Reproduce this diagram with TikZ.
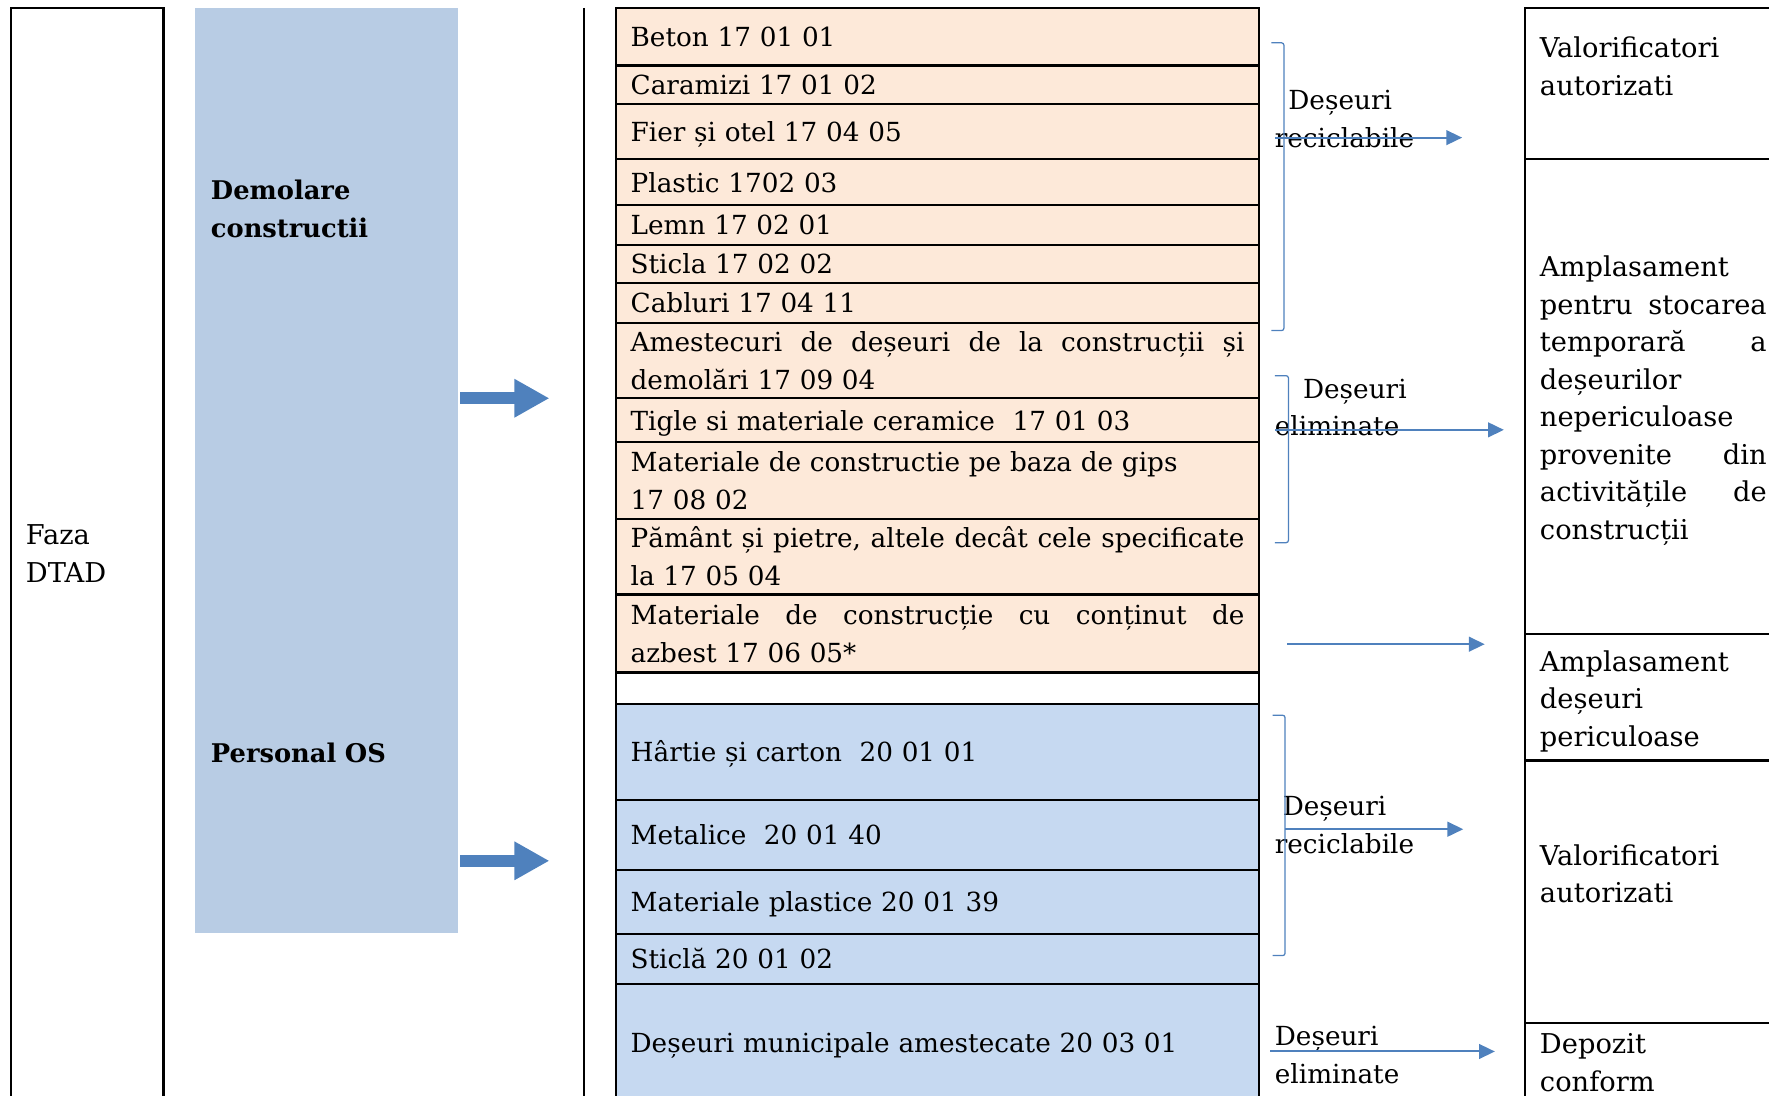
\documentclass[tikz,border=0pt]{standalone}
\usepackage{fontspec}
\setmainfont{DejaVu Serif}
\usetikzlibrary{arrows.meta}
\definecolor{peach}{HTML}{FDE9D9}
\definecolor{cellblue}{HTML}{C6D9F1}
\definecolor{boxblue}{HTML}{B8CCE4}
\definecolor{arrblue}{HTML}{4F81BD}
\newcommand\tabf{\fontsize{23.3}{33.3}\selectfont}
\newcommand\colf{\fontsize{24.2}{33.3}\selectfont}
\newcommand\boldf{\fontsize{22.8}{33.3}\selectfont\bfseries}
\newcommand\sst{\rule[-7.95pt]{0pt}{33.3pt}}
\newcommand\jline[2]{\leavevmode\hbox to #1{\sst #2}}
\tikzset{
  frame/.style={draw=black, line width=2pt, anchor=north west, inner sep=0pt, outer sep=0pt},
  cell/.style={frame, text width=544pt, inner xsep=13pt, inner ysep=0pt, align=left, font=\tabf},
  txt/.style={inner sep=0pt, outer sep=0pt, anchor=north west, align=left, font=\tabf},
  bigarrow/.style={draw=arrblue, line width=11pt, -{Triangle[length=31pt,width=32pt]}},
  thinarrow/.style={draw=arrblue, line width=1.8pt, -{Triangle[length=14pt,width=13pt]}},
  brk/.style={draw=arrblue, line width=1.1pt, rounded corners=2pt}
}
\begin{document}
\begin{tikzpicture}[x=1pt,y=-1pt]
\useasboundingbox (0,0) rectangle (1568,971);
\clip (0,0) rectangle (1568,971);

% left column
\node[frame, minimum width=135pt, minimum height=990pt] (faza) at (10,7) {};
\node[txt, text width=120pt, font=\colf] (fazat) at (23,457.7) {\sst Faza\\\sst DTAD};

% blue box
\node[fill=boxblue, anchor=north west, inner sep=0pt, outer sep=0pt, minimum width=233pt, minimum height=820pt] (demol) at (173,7) {};
\node[txt, text width=215pt, font=\boldf] (demolt) at (187,151.7) {\sst Demolare\\\sst constructii};
\node[txt, text width=215pt, font=\boldf] (pers) at (187,650.7) {\sst Personal OS};

% separator
\coordinate (sepT) at (518,7);
\coordinate (sepB) at (518,990);
\draw[line width=1.8pt] (sepT) -- (sepB);

% table
\node[cell, fill=peach, minimum height=51pt] (r1) at (546,7) {\sst Beton 17 01 01};
\node[cell, fill=peach, minimum height=34pt] (r2) at (546,58) {\sst Caramizi 17 01 02};
\node[cell, fill=peach, minimum height=49pt] (r3) at (546,92) {\sst Fier și otel 17 04 05};
\node[cell, fill=peach, minimum height=41pt] (r4) at (546,141) {\sst Plastic 1702 03};
\node[cell, fill=peach, minimum height=35pt] (r5) at (546,182) {\sst Lemn 17 02 01};
\node[cell, fill=peach, minimum height=34pt] (r6) at (546,217) {\sst Sticla 17 02 02};
\node[cell, fill=peach, minimum height=35pt] (r7) at (546,251) {\sst Cabluri 17 04 11};
\node[cell, fill=peach, minimum height=67pt] (r8) at (546,286) {\jline{544pt}{Amestecuri\hfill de\hfill deșeuri\hfill de\hfill la\hfill construcții\hfill și}\\\sst demolări 17 09 04};
\node[cell, fill=peach, minimum height=39pt] (r9) at (546,353) {\sst Tigle si materiale ceramice~ 17 01 03};
\node[cell, fill=peach, minimum height=68pt] (r10) at (546,392) {\sst Materiale de constructie pe baza de gips\\\sst 17 08 02};
\node[cell, fill=peach, minimum height=67pt] (r11) at (546,460) {\jline{544pt}{Pământ\hfill și\hfill pietre,\hfill altele\hfill decât\hfill cele\hfill specificate}\\\sst la 17 05 04};
\node[cell, fill=peach, minimum height=69pt] (r12) at (546,527) {\jline{544pt}{Materiale\hfill de\hfill construcție\hfill cu\hfill conținut\hfill de}\\\sst azbest 17 06 05*};
\node[cell, fill=white, minimum height=28pt] (r13) at (546,596) {};
\node[cell, fill=cellblue, minimum height=85pt] (r14) at (546,624) {\sst Hârtie și carton~ 20 01 01};
\node[cell, fill=cellblue, minimum height=62pt] (r15) at (546,709) {\sst Metalice~ 20 01 40};
\node[cell, fill=cellblue, minimum height=57pt] (r16) at (546,771) {\sst Materiale plastice 20 01 39};
\node[cell, fill=cellblue, minimum height=44pt] (r17) at (546,828) {\sst Sticlă 20 01 02};
\node[cell, fill=cellblue, minimum height=104pt] (r18) at (546,872) {\sst Deșeuri municipale amestecate 20 03 01};

% big arrows
\coordinate (a1e) at (487,353);
\coordinate (a2e) at (487,763);
\draw[bigarrow, shorten <=2pt] (demol.east |- a1e) -- (a1e);
\draw[bigarrow, shorten <=2pt] (demol.east |- a2e) -- (a2e);

% right column
\node[frame, minimum width=260pt, minimum height=134pt] (d1) at (1352,7) {};
\node[frame, minimum width=260pt, minimum height=421pt] (d2) at (1352,141) {};
\node[frame, minimum width=260pt, minimum height=112pt] (d3) at (1352,562) {};
\node[frame, minimum width=260pt, minimum height=233pt] (d4) at (1352,674) {};
\node[frame, minimum width=260pt, minimum height=100pt] (d5) at (1352,907) {};

\node[txt, text width=201pt, font=\colf] (d1t) at (1365,25.7) {\sst Valorificatori\\\sst autorizati};
\node[txt, text width=201pt, font=\colf] (d2t) at (1365,219.7) {\sst Amplasament\\
\jline{201pt}{pentru\hfill stocarea}\\
\jline{201pt}{temporară\hfill a}\\
\sst deșeurilor\\
\sst nepericuloase\\
\jline{201pt}{provenite\hfill din}\\
\jline{201pt}{activitățile\hfill de}\\
\sst construcții};
\node[txt, text width=201pt, font=\colf] (d3t) at (1365,569.7) {\sst Amplasament\\\sst deșeuri\\\sst periculoase};
\node[txt, text width=201pt, font=\colf] (d4t) at (1365,741.7) {\sst Valorificatori\\\sst autorizati};
\node[txt, text width=201pt, font=\colf] (d5t) at (1365,908.7) {\sst Depozit\\\sst conform};

% labels
\node[txt, text width=200pt] (l1) at (1130,71.7) {\sst\hspace*{12pt}Deșeuri\\\sst reciclabile};
\node[txt, text width=200pt] (l2) at (1130,327.7) {\sst\hspace*{25pt}Deșeuri\\\sst eliminate};
\node[txt, text width=200pt] (l3) at (1130,697.7) {\sst\hspace*{7pt}Deșeuri\\\sst reciclabile};
\node[txt, text width=200pt] (l4) at (1130,901.7) {\sst Deșeuri\\\sst eliminate};

% brackets
\draw[brk] (1127,38) -- (1138,38) -- (1138,293) -- (1127,293);
\draw[brk] (1130,333) -- (1142,333) -- (1142,481) -- (1130,481);
\draw[brk] (1128,634) -- (1139,634) -- (1139,847) -- (1128,847);

% thin arrows
\coordinate (s1) at (1130,122); \coordinate (e1) at (1296,122);
\coordinate (s2) at (1130,381); \coordinate (e2) at (1333,381);
\coordinate (s3) at (1141,571); \coordinate (e3) at (1316,571);
\coordinate (s4) at (1139,735); \coordinate (e4) at (1297,735);
\coordinate (s5) at (1126,932); \coordinate (e5) at (1325,932);
\draw[thinarrow] (s1) -- (e1);
\draw[thinarrow] (s2) -- (e2);
\draw[thinarrow] (s3) -- (e3);
\draw[thinarrow] (s4) -- (e4);
\draw[thinarrow] (s5) -- (e5);
\end{tikzpicture}
\end{document}
